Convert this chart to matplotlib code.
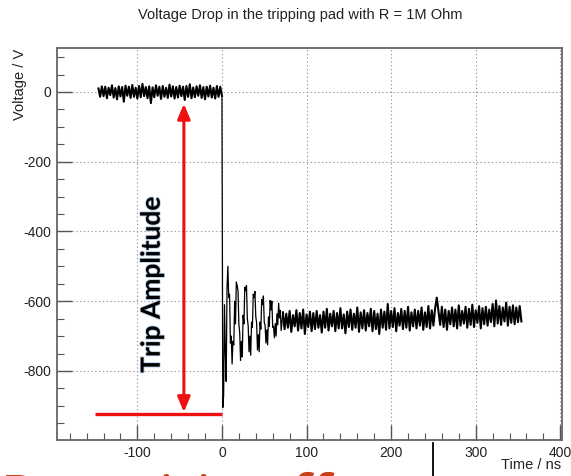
import numpy as np
import matplotlib
matplotlib.use("Agg")
import matplotlib.pyplot as plt
from matplotlib.lines import Line2D
import matplotlib.patheffects as pe

plt.rcParams["axes.unicode_minus"] = False

# ---------------- data ----------------
title = "Voltage Drop in the tripping pad with R = 1M Ohm"
xlabel = "Time / ns"
ylabel = "Voltage / V"
x_ticks = [-100, 0, 100, 200, 300, 400]
y_ticks = [-800, -600, -400, -200, 0]

# baseline before the trip (2 ns sampling, -146 .. 0 ns)
v_pre = [10, -14, 16, -12, 15, -18, 12, -9, 19, -16, 11, -21, 16, -13, 14, -28,
         18, -11, 15, -17, 20, -14, 12, -19, 17, -15, 23, -12, 14, -18, 16, -32,
         13, -15, 19, -11, 15, -20, 17, -14, 12, -17, 21, -13, 16, -19, 14, -16,
         18, -12, 15, -23, 17, -14, 22, -18, 13, -15, 16, -11, 19, -17, 14, -21,
         15, -13, 18, -16, 12, -19, 17, -14, 15, -11]

# ringing right after the trip (1 ns sampling, 1 .. 70 ns)
v_ring = [-905, -870, -610, -745, -830, -560, -500, -590, -580, -720,
          -700, -780, -715, -725, -600, -665, -545, -555, -570, -665,
          -690, -770, -715, -760, -640, -665, -560, -570, -555, -650,
          -670, -745, -700, -755, -660, -675, -580, -590, -572, -645,
          -662, -740, -696, -745, -660, -680, -595, -610, -585, -660,
          -670, -720, -682, -725, -645, -672, -598, -625, -600, -675,
          -672, -705, -664, -700, -636, -668, -606, -648, -626, -684]

# settled level (2 ns sampling, 72 .. 354 ns)
v_post = [-632, -680, -636, -676, -628, -688, -640, -672, -626, -684,
          -634, -678, -624, -694, -638, -674, -630, -686, -634, -680,
          -628, -676, -640, -690, -630, -676, -622, -684, -636, -672,
          -628, -686, -634, -678, -620, -678, -638, -692, -630, -674,
          -624, -682, -636, -676, -618, -688, -632, -678, -626, -684,
          -634, -672, -622, -686, -628, -680, -636, -694, -624, -676,
          -630, -682, -608, -678, -628, -674, -620, -686, -634, -670,
          -622, -680, -628, -676, -616, -684, -632, -672, -624, -678,
          -628, -670, -618, -682, -632, -674, -614, -678, -626, -670,
          -620, -590, -630, -668, -616, -674, -624, -682, -628, -666,
          -618, -672, -624, -678, -612, -670, -628, -664, -616, -676,
          -622, -668, -610, -674, -626, -662, -614, -678, -620, -666,
          -616, -670, -624, -660, -608, -672, -598, -664, -614, -668,
          -618, -658, -604, -670, -616, -662, -612, -666, -618, -660,
          -614, -658]

t_pre = np.linspace(-146, 0, len(v_pre))
t_ring = np.arange(1, 1 + len(v_ring))
t_post = np.arange(72, 72 + 2 * len(v_post), 2)

# annotation values
trip_level = -923
trip_line_t = [-150, 0]
arrow_t = -45
arrow_top = -34
arrow_bottom = -918
trip_text = "Trip Amplitude"
trip_text_t = -83
trip_text_v = -553

# ---------------- figure ----------------
W, H = 571, 476
fig = plt.figure(figsize=(W / 100, H / 100), dpi=100)
ax = fig.add_axes([57 / W, 1 - 440 / H, (562 - 57) / W, (440 - 48) / H])

ax.set_xlim(-195, 402)
ax.set_ylim(-998, 126)

# waveform: drop + ringing drawn thin, noisy plateaus drawn denser
ax.plot(np.concatenate([t_pre[-1:], t_ring, t_post[:1]]),
        np.concatenate([v_pre[-1:], v_ring, v_post[:1]]),
        color="black", lw=0.9, zorder=3)
ax.plot(t_pre, v_pre, color="black", lw=1.5, zorder=3)
ax.plot(t_post, v_post, color="black", lw=1.5, zorder=3)

# grid
ax.set_xticks(x_ticks)
ax.set_yticks(y_ticks)
ax.grid(True, color="#9a9a9a", linestyle=(0, (1.2, 2.2)), lw=0.8, zorder=0)
ax.xaxis.set_minor_locator(matplotlib.ticker.MultipleLocator(20))
ax.yaxis.set_minor_locator(matplotlib.ticker.MultipleLocator(50))
ax.tick_params(which="major", direction="in", length=11, width=1.0, color="#555555",
               labelsize=10, labelcolor="#222222", pad=4)
ax.tick_params(which="minor", direction="in", length=5, width=0.8, color="#555555")
ax.tick_params(top=False, right=False)
for s in ax.spines.values():
    s.set_color("#666666")
    s.set_linewidth(1.3)

for lab in ax.get_xticklabels() + ax.get_yticklabels():
    lab.set_family(["Liberation Sans", "DejaVu Sans"])

# red annotations
ax.plot(trip_line_t, [trip_level, trip_level], color="#ee1111", lw=2.4, zorder=5,
        solid_capstyle="butt")
ax.annotate("", xy=(arrow_t, arrow_top), xytext=(arrow_t, arrow_bottom),
            arrowprops=dict(arrowstyle="<|-|>,head_length=0.9,head_width=0.38",
                            color="#ee1111", lw=2.2, shrinkA=0, shrinkB=0), zorder=5)
ax.text(trip_text_t, trip_text_v, trip_text, rotation=90, ha="center", va="center",
        fontsize=19, fontweight="bold", family=["Lato", "DejaVu Sans"], color="black",
        zorder=6,
        path_effects=[pe.withStroke(linewidth=1.2, foreground="#b5cde6")])

# texts
fig.text(300 / W, 1 - 15 / H, title, ha="center", va="center", fontsize=10.5,
         family=["Liberation Sans", "DejaVu Sans"], color="#222222")
fig.text(20 / W, 1 - 49 / H, ylabel, rotation=90, ha="center", va="top", fontsize=10.5,
         family=["Liberation Sans", "DejaVu Sans"], color="#222222")
fig.text(561 / W, 1 - 465 / H, xlabel, ha="right", va="center", fontsize=10.5,
         family=["Liberation Sans", "DejaVu Sans"], color="#222222")

# slide leftovers at the bottom (only the top of a large red caption shows)
fig.add_artist(Line2D([433 / W, 433 / W], [0, 1 - 443 / H], color="black", lw=1.3))
fig.text(0 / W, 1 - 518 / H, "Parasitic effects", ha="left", va="baseline",
         fontsize=44, color="#c8401a", family=["Open Sans", "DejaVu Sans"])

fig.savefig("out.png", dpi=100)
